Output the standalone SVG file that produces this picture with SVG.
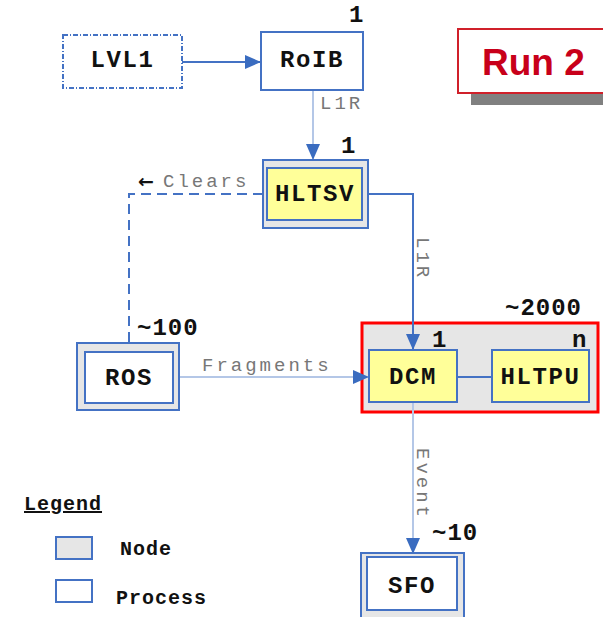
<svg xmlns="http://www.w3.org/2000/svg" width="603" height="617" viewBox="0 0 603 617">
<style>
.node{fill:#e6e6e6;stroke:#4472c4;stroke-width:2}
.proc{fill:#ffffff;stroke:#4472c4;stroke-width:2}
.hl{fill:#ffff99;stroke:#4472c4;stroke-width:2}
.lbl{font-family:"Liberation Mono","Courier New",monospace;font-weight:bold;font-size:24px;letter-spacing:1.6px;fill:#111}
.num{font-family:"Liberation Mono","Courier New",monospace;font-weight:bold;font-size:24px;letter-spacing:1px;fill:#111}
.edge{font-family:"Liberation Mono","Courier New",monospace;font-size:19px;letter-spacing:3px;fill:#777}
.leg{font-family:"Liberation Mono","Courier New",monospace;font-weight:bold;font-size:20px;letter-spacing:1px;fill:#111}
.solid{fill:none;stroke:#4472c4;stroke-width:2}
.light{fill:none;stroke:#b4c7e7;stroke-width:2}
.dash{fill:none;stroke:#4472c4;stroke-width:2;stroke-dasharray:10,6}
</style>
<defs>
<marker id="arr" markerUnits="userSpaceOnUse" markerWidth="16" markerHeight="16" viewBox="0 0 16 16" refX="16" refY="8" orient="auto">
<path d="M0,1 L16,8 L0,15 Z" fill="#3a6cc0"/>
</marker>
</defs>

<g id="HLTnode">
<rect x="362" y="323" width="236" height="89" fill="#e6e6e6" stroke="#ff0000" stroke-width="3"/>
<text class="num" x="505" y="315">~2000</text>
<text class="num" x="432" y="347">1</text>
<text class="num" x="572" y="347">n</text>
</g>

<g id="connectors">
<line class="solid" x1="182" y1="62" x2="261" y2="62" marker-end="url(#arr)"/>
<line class="light" x1="313" y1="90" x2="313" y2="160" marker-end="url(#arr)"/>
<polyline class="solid" points="368,194 413,194 413,350" marker-end="url(#arr)"/>
<polyline class="dash" points="263,194 129,194 129,345"/>
<line class="light" x1="179" y1="377" x2="369" y2="377" marker-end="url(#arr)"/>
<line class="solid" x1="457" y1="377" x2="492" y2="377"/>
<line class="light" x1="413" y1="402" x2="413" y2="554" marker-end="url(#arr)"/>
<text class="edge" x="320" y="109">L1R</text>
<text class="edge" transform="translate(417,237) rotate(90)">L1R</text>
<text class="edge" transform="translate(417,448) rotate(90)">Event</text>
<text class="edge" x="202" y="371">Fragments</text>
<text x="138" y="188" font-family="'DejaVu Sans',sans-serif" font-weight="bold" font-size="19" fill="#111">←</text>
<text class="edge" x="163" y="187">Clears</text>
</g>

<g id="run2">
<rect x="471" y="93" width="140" height="12" fill="#808080"/>
<rect x="458" y="29" width="150" height="64" fill="#fff" stroke="#d0202a" stroke-width="2"/>
<text x="482" y="75" font-family="'Liberation Sans',Arial,sans-serif" font-weight="bold" font-size="37" fill="#c8001a">Run 2</text>
</g>

<g id="LVL1">
<rect x="63" y="35" width="119" height="53" fill="#fff" stroke="#4472c4" stroke-width="2" stroke-dasharray="5,2,1,2"/>
<text class="lbl" x="122.5" y="67" text-anchor="middle">LVL1</text>
</g>

<g id="RoIB">
<rect class="proc" x="261" y="32" width="102" height="58"/>
<text class="lbl" x="312" y="67" text-anchor="middle">RoIB</text>
<text class="num" x="349" y="22">1</text>
</g>

<g id="HLTSV">
<rect class="node" x="263" y="160" width="105" height="68"/>
<rect class="hl" x="267" y="168" width="95" height="52"/>
<text class="lbl" x="315" y="201" text-anchor="middle">HLTSV</text>
<text class="num" x="341" y="153">1</text>
</g>

<g id="ROS">
<rect class="node" x="77" y="343" width="102" height="67"/>
<rect class="proc" x="85" y="352" width="88" height="51"/>
<text class="lbl" x="129" y="385" text-anchor="middle">ROS</text>
<text class="num" x="137" y="335">~100</text>
</g>

<g id="DCM">
<rect class="hl" x="369" y="350" width="88" height="52"/>
<text class="lbl" x="413" y="384" text-anchor="middle">DCM</text>
</g>

<g id="HLTPU">
<rect class="hl" x="492" y="350" width="97" height="52"/>
<text class="lbl" x="540.5" y="384" text-anchor="middle">HLTPU</text>
</g>

<g id="SFO">
<rect class="node" x="361" y="553" width="103" height="70"/>
<rect class="proc" x="367" y="557" width="90" height="53"/>
<text class="lbl" x="412" y="593" text-anchor="middle">SFO</text>
<text class="num" x="432" y="540">~10</text>
</g>

<g id="legend">
<text class="leg" x="24" y="510" text-decoration="underline">Legend</text>
<rect class="node" x="56" y="537" width="36" height="22"/>
<text class="leg" x="120" y="555">Node</text>
<rect class="proc" x="56" y="580" width="36" height="22"/>
<text class="leg" x="116" y="604">Process</text>
</g>
</svg>
